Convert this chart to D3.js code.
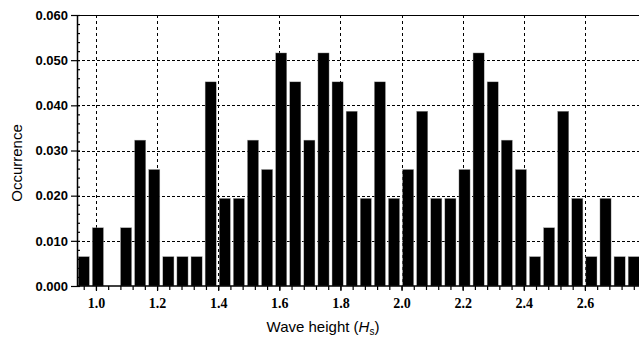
<!DOCTYPE html>
<html>
<head>
<meta charset="utf-8">
<script src="https://cdn.jsdelivr.net/npm/d3@7"></script>
<style>
  body { margin: 0; background: #fff; }
  svg { display: block; }
</style>
</head>
<body>
<div id="chart"></div>
<script>
var width = 639,
    height = 338;

// occurrence of each wave-height bin, left to right
var occurrence = [
  0.0065, 0.0129, 0.0, 0.0129, 0.0323, 0.0258, 0.0065, 0.0065, 0.0065, 0.0452,
  0.0194, 0.0194, 0.0323, 0.0258, 0.0516, 0.0452, 0.0323, 0.0516, 0.0452, 0.0387,
  0.0194, 0.0452, 0.0194, 0.0258, 0.0387, 0.0194, 0.0194, 0.0258, 0.0516, 0.0452,
  0.0323, 0.0258, 0.0065, 0.0129, 0.0387, 0.0194, 0.0065, 0.0194, 0.0065, 0.0065
];
var xRange = [0.938, 2.777];
var xTicks = [1.0, 1.2, 1.4, 1.6, 1.8, 2.0, 2.2, 2.4, 2.6];
var yTicks = [0, 0.01, 0.02, 0.03, 0.04, 0.05, 0.06];

var margin = {top: 15, right: 0, bottom: 52, left: 77};

var x = d3.scaleLinear().domain(xRange).range([margin.left, width - margin.right]);
var y = d3.scaleLinear().domain([0, 0.06]).range([height - margin.bottom, margin.top]);

var band = d3.scaleBand()
    .domain(d3.range(occurrence.length))
    .range([x(xRange[0]) + 0.5, x(xRange[1]) + 1])
    .paddingInner(0.21)
    .paddingOuter(0.05);

var svg = d3.select("#chart").append("svg")
    .attr("width", width)
    .attr("height", height);

// dashed grid
svg.append("g")
    .attr("stroke", "#000")
    .attr("stroke-width", 1)
    .attr("stroke-dasharray", "3,2")
    .selectAll("line")
    .data(yTicks.slice(1, -1))
    .join("line")
    .attr("x1", margin.left)
    .attr("x2", width)
    .attr("y1", d => Math.round(y(d)) + 0.5)
    .attr("y2", d => Math.round(y(d)) + 0.5);

svg.append("g")
    .attr("stroke", "#000")
    .attr("stroke-width", 1)
    .attr("stroke-dasharray", "3,3")
    .selectAll("line")
    .data(xTicks)
    .join("line")
    .attr("x1", d => Math.round(x(d)) + 0.5)
    .attr("x2", d => Math.round(x(d)) + 0.5)
    .attr("y1", y(0.06))
    .attr("y2", y(0));

// bars
svg.append("g")
    .selectAll("rect")
    .data(occurrence)
    .join("rect")
    .attr("x", (d, i) => band(i))
    .attr("width", band.bandwidth())
    .attr("y", d => y(d))
    .attr("height", d => y(0) - y(d))
    .attr("fill", "#000")
    .attr("stroke", "#aaa")
    .attr("stroke-width", 0.4);

// top frame line
svg.append("line")
    .attr("x1", margin.left).attr("x2", width)
    .attr("y1", y(0.06) + 0.5).attr("y2", y(0.06) + 0.5)
    .attr("stroke", "#000").attr("stroke-width", 1.2);

// x axis
var xAxis = svg.append("g")
    .attr("transform", `translate(0,${y(0)})`);
xAxis.call(d3.axisBottom(x).tickValues(d3.range(0.96, 2.78, 0.04)).tickSize(4).tickFormat(""))
    .call(g => g.select(".domain").remove());
xAxis.call(g => g.selectAll(".tick line").attr("stroke-width", 1.2));
var xMaj = svg.append("g")
    .attr("transform", `translate(0,${y(0)})`)
    .call(d3.axisBottom(x).tickValues(xTicks).tickSize(5).tickPadding(7).tickFormat(d3.format(".1f")));
xMaj.select(".domain").remove();
xMaj.selectAll(".tick line").attr("stroke-width", 1.2);
xMaj.selectAll("text")
    .attr("font-family", "'Liberation Serif', 'Times New Roman', serif")
    .attr("font-weight", "bold")
    .attr("font-size", 14)
    .attr("fill", "#000");

svg.append("line")
    .attr("x1", margin.left).attr("x2", width)
    .attr("y1", y(0)).attr("y2", y(0))
    .attr("stroke", "#000").attr("stroke-width", 1.5);

// y axis
var yMinor = svg.append("g")
    .attr("transform", `translate(${margin.left},0)`)
    .call(d3.axisRight(y).tickValues(d3.range(0, 0.0601, 0.002)).tickSize(3).tickFormat(""));
yMinor.select(".domain").remove();
yMinor.selectAll(".tick line").attr("stroke-width", 1.2);

var yAxis = svg.append("g")
    .attr("transform", `translate(${margin.left},0)`)
    .call(d3.axisLeft(y).tickValues(yTicks).tickSize(6).tickPadding(3).tickFormat(d3.format(".3f")));
yAxis.select(".domain").attr("stroke-width", 1.5).attr("d", `M0.5,${y(0.06)}V${y(0)}`);
yAxis.selectAll(".tick line").attr("stroke-width", 1.2);
yAxis.selectAll("text")
    .attr("font-family", "'Liberation Sans', Arial, sans-serif")
    .attr("font-weight", "bold")
    .attr("font-size", 13)
    .attr("fill", "#000");

// axis titles
svg.append("text")
    .attr("transform", `translate(22,163) rotate(-90)`)
    .attr("text-anchor", "middle")
    .attr("font-family", "'Liberation Sans', Arial, sans-serif")
    .attr("font-size", 15)
    .text("Occurrence");

var xt = svg.append("text")
    .attr("x", 323)
    .attr("y", 332)
    .attr("text-anchor", "middle")
    .attr("font-family", "'Liberation Sans', Arial, sans-serif")
    .attr("font-size", 15);
xt.append("tspan").text("Wave height (");
xt.append("tspan").attr("font-style", "italic").text("H");
xt.append("tspan").attr("font-size", 10).attr("dy", 3).text("s");
xt.append("tspan").attr("dy", -3).text(")");
</script>
</body>
</html>
